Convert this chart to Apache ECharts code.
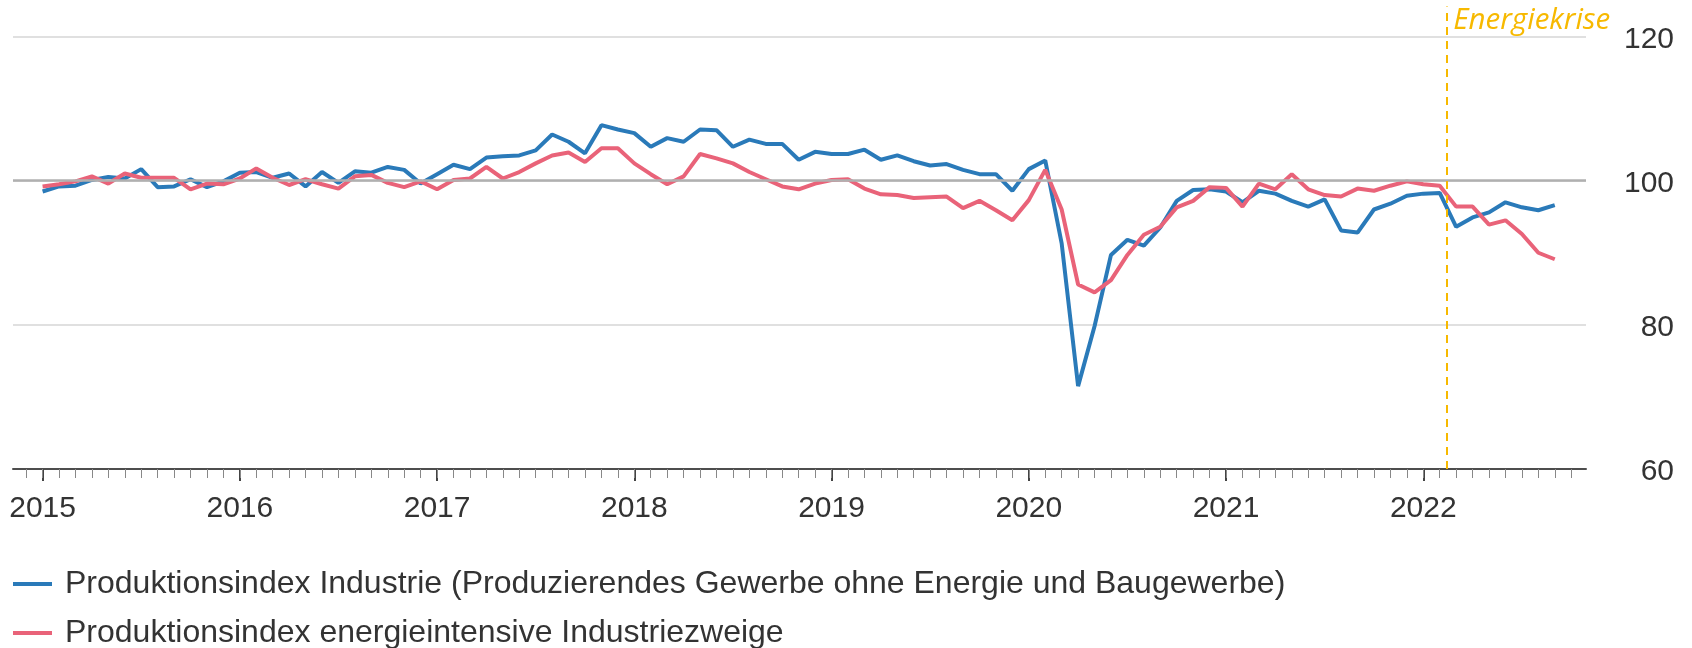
<!DOCTYPE html>
<html>
<head>
<meta charset="utf-8">
<script src="https://cdn.jsdelivr.net/npm/echarts@6/dist/echarts.min.js"></script>
<style>
  html, body { margin: 0; padding: 0; background: #fff; }
  #chart { width: 1692px; height: 648px; }
</style>
</head>
<body>
<div id="chart"></div>
<script>
// Monatswerte Jan 2015 - Sep 2022 (2015 = 100)
var months = [];
for (var y = 2015; y <= 2022; y++) {
    for (var m = 1; m <= 12; m++) {
        if (y === 2022 && m > 9) break;
        months.push(y + '-' + (m < 10 ? '0' + m : m));
    }
}

var industrie = [
    98.5, 99.2, 99.3, 100.1, 100.5, 100.3, 101.6, 99.1, 99.2, 100.2, 99.1, 99.9,
    101.1, 101.2, 100.4, 101.0, 99.2, 101.2, 99.7, 101.3, 101.1, 101.9, 101.5, 99.6,
    100.9, 102.2, 101.6, 103.2, 103.4, 103.5, 104.2, 106.4, 105.4, 103.8, 107.7, 107.1,
    106.6, 104.7, 105.9, 105.4, 107.1, 107.0, 104.7, 105.7, 105.1, 105.1, 102.9, 104.0,
    103.7, 103.7, 104.3, 102.9, 103.5, 102.7, 102.1, 102.3, 101.5, 100.9, 100.9, 98.6,
    101.6, 102.8, 91.3, 71.5, 79.8, 89.7, 91.8, 91.0, 93.5, 97.2, 98.7, 98.8,
    98.5, 97.0, 98.6, 98.2, 97.2, 96.4, 97.4, 93.1, 92.8, 96.0, 96.8, 97.9,
    98.2, 98.3, 93.6, 94.9, 95.6, 97.0, 96.3, 95.9, 96.6
];

var energieintensiv = [
    99.2, 99.5, 99.9, 100.6, 99.6, 101.0, 100.4, 100.4, 100.4, 98.8, 99.6, 99.5,
    100.3, 101.7, 100.4, 99.4, 100.2, 99.5, 98.9, 100.6, 100.8, 99.7, 99.1, 99.9,
    98.8, 100.1, 100.3, 101.9, 100.3, 101.2, 102.4, 103.5, 103.9, 102.6, 104.5, 104.5,
    102.4, 100.9, 99.5, 100.6, 103.7, 103.1, 102.4, 101.2, 100.2, 99.2, 98.8, 99.6,
    100.1, 100.2, 98.9, 98.1, 98.0, 97.6, 97.7, 97.8, 96.2, 97.2, 95.9, 94.5,
    97.3, 101.5, 96.0, 85.6, 84.5, 86.2, 89.7, 92.5, 93.6, 96.3, 97.2, 99.1,
    99.0, 96.4, 99.6, 98.8, 100.9, 98.8, 98.0, 97.8, 98.9, 98.6, 99.3, 99.9,
    99.5, 99.3, 96.4, 96.4, 93.9, 94.5, 92.6, 90.0, 89.1
];

var yearLabels = ['2015', '2016', '2017', '2018', '2019', '2020', '2021', '2022'];
var names = [
    'Produktionsindex Industrie (Produzierendes Gewerbe ohne Energie und Baugewerbe)',
    'Produktionsindex energieintensive Industriezweige'
];
var krisenMonat = 85.4;   // Ende Februar 2022

// x-Achse: Monatsindex ab Jan 2015
var yearTicks = yearLabels.map(function (l, i) { return i * 12; });
var monthTicks = [];
for (var t = -1; t <= 93; t++) monthTicks.push(t);

function toPairs(arr) {
    return arr.map(function (v, i) { return [i, v]; });
}

var chart = echarts.init(document.getElementById('chart'));
var font = 'Liberation Sans, Arial, sans-serif';
var xMin = -1.8, xMax = 93.9;

function legendFor(name, top) {
    return {
        data: [name],
        orient: 'vertical',
        left: 13,
        top: top,
        padding: 0,
        icon: 'rect',
        itemWidth: 39,
        itemHeight: 4,
        textStyle: { fontFamily: font, fontSize: 32, color: '#333', lineHeight: 32, padding: [0, 0, 0, 8] }
    };
}

var option = {
    animation: false,
    // grid 0: Daten, grid 1: gleiche Fläche nach oben verlängert für die Markierung
    grid: [
        { left: 13, right: 106, top: 36.5, bottom: 179 },
        { left: 13, right: 106, top: 6.6, bottom: 179 }
    ],
    legend: [legendFor(names[0], 568), legendFor(names[1], 617)],
    xAxis: [{
        type: 'value',
        gridIndex: 0,
        min: xMin,
        max: xMax,
        splitLine: { show: false },
        axisLine: { show: true, onZero: false, lineStyle: { color: '#4d4d4d', width: 2 } },
        axisTick: { show: true, customValues: yearTicks, length: 12, lineStyle: { color: '#444', width: 2 } },
        axisLabel: {
            customValues: yearTicks,
            fontFamily: font, fontSize: 30, color: '#333', margin: 25,
            formatter: function (v) { return yearLabels[Math.round(v / 12)]; }
        }
    }, {
        type: 'value',
        gridIndex: 0,
        min: xMin,
        max: xMax,
        position: 'bottom',
        splitLine: { show: false },
        axisLine: { show: false },
        axisTick: { show: true, customValues: monthTicks, length: 9, lineStyle: { color: '#888', width: 1 } },
        axisLabel: { show: false }
    }, {
        type: 'value',
        gridIndex: 1,
        min: xMin,
        max: xMax,
        show: false
    }],
    yAxis: [{
        type: 'value',
        gridIndex: 0,
        position: 'right',
        min: 60,
        max: 120,
        interval: 20,
        axisLine: { show: false },
        axisTick: { show: false },
        splitLine: { lineStyle: { color: '#e0e0e0', width: 2 } },
        axisLabel: {
            align: 'right', margin: 88,
            formatter: function (v) { return '{n|' + v + '}'; },
            rich: {
                n: { fontFamily: font, fontSize: 30, color: '#333', align: 'right', padding: [6, 0, 0, 0] }
            }
        }
    }, {
        type: 'value',
        gridIndex: 1,
        min: 60,
        max: 124,
        show: false
    }],
    series: [
        {
            name: 'ref',
            type: 'line',
            data: [],
            z: 1,
            markLine: {
                silent: true,
                symbol: 'none',
                label: { show: false },
                lineStyle: { color: '#b0b0b0', width: 2.5, type: 'solid' },
                data: [{ yAxis: 100 }]
            }
        },
        {
            name: names[0],
            type: 'line',
            data: toPairs(industrie),
            showSymbol: false,
            z: 2,
            itemStyle: { color: '#2a7ab9' },
            lineStyle: { color: '#2a7ab9', width: 4 }
        },
        {
            name: names[1],
            type: 'line',
            data: toPairs(energieintensiv),
            showSymbol: false,
            z: 2,
            itemStyle: { color: '#e96379' },
            lineStyle: { color: '#e96379', width: 4 }
        },
        {
            name: 'krise',
            type: 'line',
            xAxisIndex: 2,
            yAxisIndex: 1,
            data: [],
            z: 3,
            markLine: {
                silent: true,
                symbol: 'none',
                label: { show: false },
                lineStyle: { color: '#f7b900', width: 2, type: [8, 6] },
                data: [{ xAxis: krisenMonat }]
            },
            markPoint: {
                silent: true,
                symbol: 'circle',
                symbolSize: 0,
                data: [{ coord: [krisenMonat, 122.0] }],
                label: {
                    show: true,
                    position: 'right',
                    distance: 7,
                    formatter: 'Energiekrise',
                    fontFamily: 'Open Sans, sans-serif',
                    fontStyle: 'italic',
                    fontSize: 29.5,
                    color: '#f7b900'
                }
            }
        }
    ]
};

chart.setOption(option);
</script>
</body>
</html>
